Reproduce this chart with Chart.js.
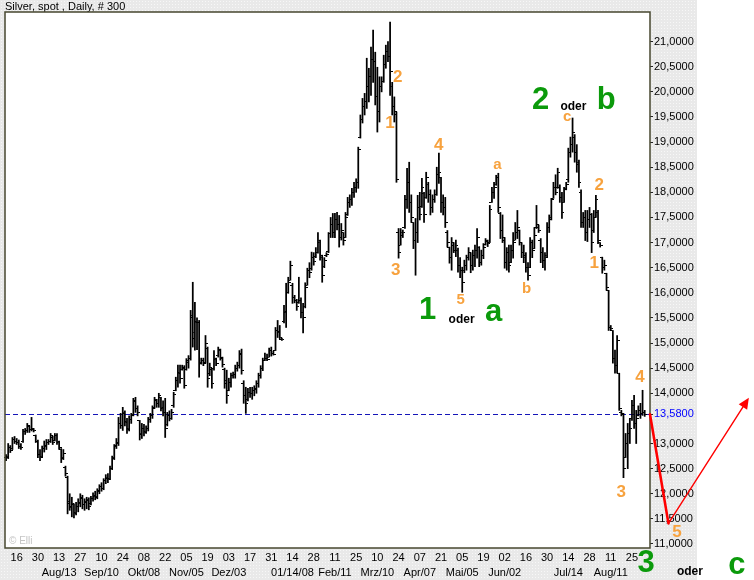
<!DOCTYPE html>
<html>
<head>
<meta charset="utf-8">
<script src="https://cdn.jsdelivr.net/npm/chart.js@4.4.1/dist/chart.umd.min.js"></script>
<style>
html,body{margin:0;padding:0;background:#fff;}
#wrap{width:754px;height:580px;}
</style>
</head>
<body>
<div id="wrap"><canvas id="c" width="754" height="580"></canvas></div>
<script>
// ---- data ----
const opens = [12.72,12.75,12.92,12.90,13.08,13.04,13.02,12.94,13.05,13.24,13.26,13.34,13.28,13.28,13.15,13.04,12.78,12.74,12.90,12.95,13.02,13.04,13.12,13.06,13.15,13.02,12.88,12.72,12.52,12.32,11.80,11.75,11.78,11.62,11.74,11.80,11.90,11.78,11.82,11.86,11.80,11.90,11.95,11.94,12.05,12.14,12.10,12.26,12.30,12.30,12.50,12.72,12.95,13.00,13.40,13.36,13.60,13.44,13.30,13.48,13.58,13.84,13.70,13.45,13.18,13.30,13.24,13.30,13.48,13.55,13.72,13.86,13.80,13.92,13.70,13.62,13.38,13.55,13.50,13.75,14.05,14.25,14.42,14.48,14.50,14.48,14.62,14.70,15.50,15.10,15.42,15.40,14.62,14.66,14.62,14.90,14.40,14.48,14.50,14.68,14.75,14.85,14.70,14.48,14.20,14.05,14.22,14.36,14.38,14.50,14.55,14.80,14.20,13.95,13.88,14.02,14.00,14.05,14.08,14.20,14.35,14.50,14.66,14.70,14.72,14.86,14.80,14.86,15.25,15.22,15.08,15.42,15.60,16.00,16.25,16.15,15.90,15.85,15.80,15.85,15.60,15.72,16.15,16.45,16.48,16.70,16.72,16.80,17.00,16.70,16.52,16.74,16.82,17.18,17.35,17.20,17.45,17.35,17.10,17.20,17.10,17.55,17.80,17.85,18.00,18.10,18.20,19.10,19.45,19.70,19.80,20.10,20.30,20.65,20.60,19.90,19.60,20.10,20.20,20.55,20.80,20.70,20.10,19.70,19.55,17.20,16.95,17.15,17.30,17.85,18.20,17.80,17.40,17.05,17.20,17.70,17.72,17.98,17.90,18.15,17.95,17.70,17.85,17.96,18.35,18.30,17.80,17.70,17.20,16.90,16.70,16.95,16.85,16.85,16.55,16.45,16.45,16.55,16.70,16.80,16.55,16.75,16.85,16.90,16.60,16.75,16.96,17.02,17.00,17.80,18.00,18.15,18.30,17.58,17.25,17.05,16.60,16.80,16.60,16.85,17.05,17.20,17.25,17.00,16.80,16.75,16.50,16.50,17.00,16.88,17.30,17.30,17.05,16.80,16.65,16.75,17.30,17.50,17.88,18.10,18.10,18.10,17.90,17.80,18.08,18.25,18.80,18.95,19.10,18.80,18.55,18.00,17.40,17.50,17.20,17.45,17.55,17.25,17.50,17.60,17.00,16.70,16.50,16.39,16.05,15.30,15.25,14.70,14.55,14.40,13.62,13.58,12.72,13.00,13.20,13.50,13.75,13.40,13.55,13.65,13.60,13.62];
const highs = [12.78,13.00,12.96,13.12,13.14,13.10,13.07,13.00,13.28,13.30,13.40,13.35,13.52,13.30,13.17,13.07,12.88,12.95,13.05,13.08,13.08,13.20,13.15,13.20,13.20,13.05,12.90,12.88,12.55,12.35,12.00,11.93,11.80,11.83,11.90,12.00,11.97,11.90,11.93,11.92,11.95,12.02,12.05,12.10,12.18,12.22,12.30,12.38,12.40,12.55,12.75,12.98,13.10,13.52,13.60,13.72,13.65,13.50,13.55,13.60,13.90,13.92,13.75,13.46,13.40,13.38,13.35,13.52,13.60,13.75,13.92,13.88,14.00,13.92,13.85,13.90,13.62,13.65,13.68,14.02,14.32,14.56,14.56,14.56,14.55,14.69,14.75,15.65,16.21,15.81,15.50,15.45,14.70,14.70,15.15,14.92,14.60,14.50,14.85,14.70,14.92,14.88,14.72,14.50,14.46,14.30,14.40,14.42,14.56,14.62,14.85,14.88,14.25,14.12,14.10,14.12,14.12,14.15,14.25,14.40,14.55,14.70,14.80,14.78,14.90,14.92,14.84,15.31,15.45,15.35,15.10,15.75,16.19,16.31,16.63,16.19,15.95,15.87,16.31,15.90,15.79,16.20,16.49,16.60,16.81,16.80,16.90,17.20,17.05,16.75,16.70,16.80,17.20,17.50,17.58,17.58,17.60,17.54,17.38,17.20,17.60,17.90,17.95,18.08,18.20,18.27,18.90,19.54,19.87,19.97,20.67,20.47,20.89,21.23,20.79,20.49,20.30,20.30,20.73,20.93,21.00,21.39,20.19,19.90,19.60,17.28,17.28,17.25,17.94,18.48,18.60,17.95,17.40,17.48,17.94,18.00,18.28,18.00,18.40,18.20,18.05,17.95,18.05,18.50,18.78,18.30,17.95,17.90,17.24,16.91,17.10,17.00,17.05,16.89,16.70,16.51,16.65,16.75,16.90,16.80,16.85,16.95,17.28,16.92,16.85,16.98,17.08,17.05,17.74,18.10,18.20,18.34,18.38,17.60,17.55,17.10,16.90,16.95,16.95,17.20,17.40,17.64,17.25,17.00,16.95,16.80,16.60,17.10,17.05,17.30,17.74,17.35,17.08,16.90,16.80,17.40,17.55,17.88,18.20,18.35,18.48,18.15,18.00,18.10,18.20,18.88,19.10,19.48,19.15,18.95,18.64,18.05,17.60,17.64,17.64,17.70,17.58,17.64,17.94,17.64,17.00,16.71,16.65,16.39,16.05,15.35,15.25,14.86,15.15,14.40,13.66,13.60,13.20,13.40,13.50,13.86,13.96,13.66,13.75,13.80,14.06,13.66];
const lows = [12.66,12.70,12.82,12.88,13.00,12.98,12.90,12.88,13.02,13.18,13.22,13.22,13.25,13.23,13.02,12.72,12.66,12.72,12.83,12.88,12.98,13.02,12.98,13.05,12.98,12.88,12.62,12.68,12.35,11.60,11.67,11.54,11.52,11.58,11.64,11.74,11.70,11.67,11.70,11.68,11.78,11.85,11.88,11.90,12.00,12.05,12.08,12.20,12.22,12.28,12.48,12.68,12.90,12.96,13.30,13.26,13.35,13.20,13.25,13.40,13.55,13.62,13.55,13.07,13.10,13.15,13.20,13.25,13.42,13.50,13.70,13.72,13.72,13.65,13.55,13.12,13.35,13.45,13.48,13.72,14.05,14.12,14.20,14.46,14.10,14.46,14.50,14.66,14.92,14.86,14.87,14.32,14.58,14.55,14.60,14.12,14.35,14.10,14.46,14.55,14.72,14.66,14.52,14.10,13.80,14.05,14.12,14.30,14.30,14.44,14.50,14.38,13.80,13.60,13.85,13.92,13.88,13.95,14.00,14.12,14.30,14.45,14.65,14.65,14.72,14.74,14.76,14.85,15.11,15.08,15.05,15.40,15.31,15.99,16.25,15.79,15.80,15.65,15.79,15.50,15.20,15.70,16.15,16.30,16.45,16.55,16.70,16.79,16.65,16.21,16.50,16.72,16.80,17.10,17.10,17.10,17.25,16.91,17.05,16.95,17.10,17.54,17.70,17.74,17.90,18.00,18.08,19.08,19.38,19.54,19.67,19.80,19.93,20.19,19.74,19.20,19.40,20.00,20.19,20.47,20.60,19.93,19.54,19.40,18.20,16.69,16.95,17.10,17.28,17.68,17.60,17.40,16.88,16.35,17.00,17.45,17.70,17.40,17.88,17.80,17.55,17.60,17.80,17.94,18.18,17.60,17.55,17.30,16.91,16.59,16.45,16.80,16.72,16.41,16.30,16.01,16.40,16.45,16.65,16.40,16.45,16.52,16.69,16.52,16.55,16.68,16.95,16.92,17.00,17.80,17.88,18.14,17.60,17.08,17.00,16.49,16.45,16.41,16.60,16.69,17.05,17.08,16.95,16.70,16.60,16.41,16.25,16.50,16.70,16.88,17.28,17.20,16.60,16.50,16.45,16.70,17.20,17.45,17.88,17.95,18.08,17.80,17.48,17.80,18.05,18.20,18.70,18.80,18.60,18.40,18.10,17.30,17.30,17.04,17.02,17.30,16.80,17.20,17.50,16.98,16.91,16.39,16.45,16.05,15.25,15.25,14.60,14.40,14.40,13.66,13.55,12.32,12.72,12.50,13.00,13.46,13.30,13.00,13.55,13.50,13.56,13.54];
const closes = [12.72,12.92,12.86,13.08,13.05,13.02,12.95,12.92,13.24,13.26,13.36,13.27,13.30,13.25,13.05,12.78,12.72,12.90,12.96,13.02,13.04,13.15,13.02,13.16,13.04,12.92,12.70,12.80,12.40,11.85,11.72,11.80,11.60,11.75,11.82,11.92,11.78,11.84,11.88,11.75,11.90,11.96,11.92,12.06,12.14,12.10,12.26,12.32,12.28,12.50,12.70,12.96,13.02,13.40,13.35,13.62,13.42,13.28,13.48,13.55,13.85,13.70,13.62,13.20,13.30,13.22,13.30,13.48,13.55,13.70,13.88,13.80,13.95,13.72,13.62,13.30,13.55,13.50,13.62,13.98,14.25,14.40,14.30,14.52,14.15,14.65,14.70,15.55,15.20,15.40,15.40,14.60,14.66,14.60,15.00,14.30,14.52,14.20,14.70,14.60,14.88,14.72,14.58,14.25,13.95,14.22,14.35,14.38,14.50,14.55,14.78,14.45,13.95,13.80,14.02,14.00,14.05,14.10,14.20,14.35,14.50,14.65,14.70,14.68,14.86,14.80,14.78,15.25,15.20,15.12,15.08,15.62,16.00,16.20,16.55,15.90,15.85,15.72,15.85,15.60,15.50,16.10,16.45,16.40,16.70,16.62,16.80,17.05,16.75,16.35,16.65,16.76,17.18,17.35,17.20,17.45,17.35,17.10,17.25,17.05,17.50,17.80,17.85,18.00,18.10,18.20,18.85,19.45,19.70,19.80,20.10,20.30,20.65,20.60,19.90,19.60,20.10,20.20,20.55,20.80,20.70,20.40,19.70,19.60,18.25,16.80,17.20,17.20,17.85,18.20,17.80,17.50,17.05,17.20,17.70,17.55,18.10,17.55,18.30,17.95,17.70,17.85,17.95,18.35,18.40,17.80,17.70,17.40,17.00,16.70,17.00,16.85,16.95,16.55,16.45,16.20,16.55,16.70,16.80,16.55,16.75,16.85,17.10,16.60,16.75,16.90,17.05,16.98,17.65,18.00,18.10,18.30,17.70,17.25,17.10,16.60,16.80,16.55,16.85,17.00,17.20,17.30,17.00,16.80,16.70,16.50,16.35,17.00,16.85,17.15,17.35,17.25,16.80,16.65,16.70,17.30,17.45,17.85,18.10,18.00,18.40,17.90,17.60,18.05,18.15,18.80,18.95,19.20,18.80,18.60,18.20,17.40,17.50,17.20,17.45,17.55,17.00,17.50,17.85,17.05,16.95,16.50,16.55,16.10,15.30,15.28,14.70,14.55,15.05,13.70,13.60,12.50,13.00,13.20,13.30,13.75,13.40,13.50,13.65,13.60,13.62,13.58];

const slotCount = 304;              // bar slots on the time axis (data fills the first ones)
const tickDays = ["16","30","13","27","10","24","08","22","05","19","03","17","31","14","28","11","25","10","24","07","21","05","19","02","16","30","14","28","11","25"];
const tickMonths = ["","","Aug/13","","Sep/10","","Okt/08","","Nov/05","","Dez/03","","","01/14/08","","Feb/11","","Mrz/10","","Apr/07","","Mai/05","","Jun/02","","","Jul/14","","Aug/11",""];
const firstTickSlot = 5, tickEvery = 10;
const yTicks = [11,11.5,12,12.5,13,13.58,14,14.5,15,15.5,16,16.5,17,17.5,18,18.5,19,19.5,20,20.5,21];
const lastPrice = 13.58;
const titleText = "Silver, spot , Daily, # 300";

// wave annotations: [text, slot, price, kind]
const notes = [
  ["2",184.6,20.29,"o"],["1",180.9,19.38,"o"],["3",183.7,16.45,"o"],["4",203.9,18.94,"o"],
  ["5",214.3,15.85,"os"],["a",231.6,18.55,"os"],["b",245.3,16.08,"os"],["c",264.5,19.5,"os"],
  ["2",279.6,18.14,"o"],["1",277.2,16.59,"o"],["4",298.8,14.32,"o"],["3",289.9,12.03,"o"],["5",316.2,11.24,"o"],
  ["1",198.7,15.65,"g"],["oder",214.7,15.47,"k"],["a",229.8,15.61,"g"],
  ["2",251.9,19.83,"g"],["oder",267.4,19.70,"k"],["b",282.9,19.83,"g"],
  ["3",301.7,10.62,"g"],["oder",322.3,10.45,"k"],["c",344.4,10.58,"g"]
];
const projection = [[303.5,13.58],[312.2,11.41],[350.1,13.91]];

// ---- drawing helpers ----
function tickImg(left){
  const c=document.createElement('canvas'); c.width=5; c.height=1;
  const g=c.getContext('2d'); g.fillStyle='#000';
  g.fillRect(left?0:3,0,2,1); return c;
}
const pat=(function(){
  const c=document.createElement('canvas'); c.width=3; c.height=3;
  const g=c.getContext('2d'); g.fillStyle='#e9e9e9'; g.fillRect(0,0,3,3);
  g.fillStyle='#f7f7f7'; g.fillRect(1,1,1,1); return c;
})();

const labels = Array.from({length:slotCount},(_,i)=>String(i));
const FONT = "'Liberation Sans', Arial, sans-serif";
const ORANGE='#f7a23e', GREEN='#0b9a0b';

const deco = {
  id:'deco',
  beforeDraw(chart){
    const {ctx, chartArea:a}=chart;
    ctx.save();
    ctx.fillStyle='#fff'; ctx.fillRect(0,0,chart.width,chart.height);
    ctx.fillStyle=ctx.createPattern(pat,'repeat');
    ctx.fillRect(0,0,a.right+47,chart.height);
    ctx.fillStyle='#fff'; ctx.fillRect(a.left,a.top,a.right-a.left,a.bottom-a.top);
    ctx.fillStyle='#000'; ctx.font='11px '+FONT; ctx.textBaseline='top'; ctx.textAlign='left';
    ctx.fillText(titleText,a.left,1);
    ctx.fillStyle='#c4c4c4'; ctx.font='10px '+FONT; ctx.textBaseline='middle';
    ctx.fillText('\u00a9 Elli',a.left+4,a.bottom-7);
    ctx.restore();
  },
  beforeDatasetsDraw(chart){
    const {ctx, chartArea:a, scales:{y}}=chart;
    const py=Math.round(y.getPixelForValue(lastPrice))+0.5;
    ctx.save(); ctx.strokeStyle='#1515b8'; ctx.lineWidth=1; ctx.setLineDash([5,3]);
    ctx.beginPath(); ctx.moveTo(a.left,py); ctx.lineTo(a.right,py); ctx.stroke(); ctx.restore();
  },
  afterDraw(chart){
    const {ctx, chartArea:a, scales:{x,y}}=chart;
    ctx.save();
    ctx.strokeStyle='#47472f'; ctx.lineWidth=1.5;
    ctx.strokeRect(a.left,a.top,a.right-a.left,a.bottom-a.top);
    // projection arrow
    const P=projection.map(p=>[x.getPixelForValue(p[0]),y.getPixelForValue(p[1])]);
    ctx.strokeStyle='#ff0000'; ctx.fillStyle='#ff0000'; ctx.lineCap='round';
    ctx.lineWidth=2.6; ctx.beginPath(); ctx.moveTo(P[0][0],P[0][1]); ctx.lineTo(P[1][0],P[1][1]); ctx.stroke();
    const dx=P[2][0]-P[1][0], dy=P[2][1]-P[1][1], L=Math.hypot(dx,dy), ux=dx/L, uy=dy/L;
    const hl=11, hw=5;
    ctx.lineWidth=1.4; ctx.beginPath(); ctx.moveTo(P[1][0],P[1][1]);
    ctx.lineTo(P[2][0]-ux*hl*0.8,P[2][1]-uy*hl*0.8); ctx.stroke();
    ctx.beginPath(); ctx.moveTo(P[2][0],P[2][1]);
    ctx.lineTo(P[2][0]-ux*hl-uy*hw,P[2][1]-uy*hl+ux*hw);
    ctx.lineTo(P[2][0]-ux*hl+uy*hw,P[2][1]-uy*hl-ux*hw);
    ctx.closePath(); ctx.fill();
    // labels
    ctx.textAlign='center'; ctx.textBaseline='middle';
    for(const [t,i,v,k] of notes){
      const px=x.getPixelForValue(i), py=y.getPixelForValue(v);
      if(k==='o'){ctx.fillStyle=ORANGE; ctx.font='bold 17px '+FONT;}
      else if(k==='os'){ctx.fillStyle=ORANGE; ctx.font='bold 15px '+FONT;}
      else if(k==='g'){ctx.fillStyle=GREEN; ctx.font='bold 31px '+FONT;}
      else {ctx.fillStyle='#000'; ctx.font='bold 12px '+FONT;}
      ctx.fillText(t,px,py);
    }
    ctx.restore();
  }
};

new Chart(document.getElementById('c'),{
  type:'bar',
  data:{
    labels,
    datasets:[
      {type:'bar', data:lows.map((l,i)=>[l,highs[i]]), backgroundColor:'#000', borderWidth:0, barThickness:1.1, order:3},
      {type:'line', data:opens, showLine:false, pointStyle:tickImg(true), pointRadius:3, order:1},
      {type:'line', data:closes, showLine:false, pointStyle:tickImg(false), pointRadius:3, order:2}
    ]
  },
  options:{
    responsive:false, animation:false, events:[],
    layout:{padding:{left:3,top:12,right:0,bottom:0}},
    plugins:{legend:{display:false},tooltip:{enabled:false},title:{display:false}},
    scales:{
      x:{
        type:'category', offset:true,
        grid:{display:false, drawTicks:false}, border:{display:false},
        afterBuildTicks(s){ s.ticks = tickDays.map((_,k)=>({value:firstTickSlot+k*tickEvery})); },
        afterFit(s){ s.height=32; },
        ticks:{autoSkip:false, maxRotation:0, minRotation:0, padding:2, color:'#000',
          font:{family:FONT,size:11,lineHeight:1.4},
          callback:(v,k)=>[tickDays[k], tickMonths[k]]}
      },
      y:{
        type:'linear', position:'right', min:10.92, max:21.59,
        grid:{display:true, drawOnChartArea:false, drawTicks:true, tickLength:3, color:'#222'},
        border:{display:false},
        afterBuildTicks(s){ s.ticks = yTicks.map(v=>({value:v})); },
        afterFit(s){ s.width=104; },
        ticks:{padding:1, font:{family:FONT,size:11},
          color:(c)=> (c.tick && c.tick.value===lastPrice) ? '#0000ff' : '#000',
          callback:(v)=> Number(v).toFixed(4).replace('.',',')}
      }
    }
  },
  plugins:[deco]
});
</script>
</body>
</html>
